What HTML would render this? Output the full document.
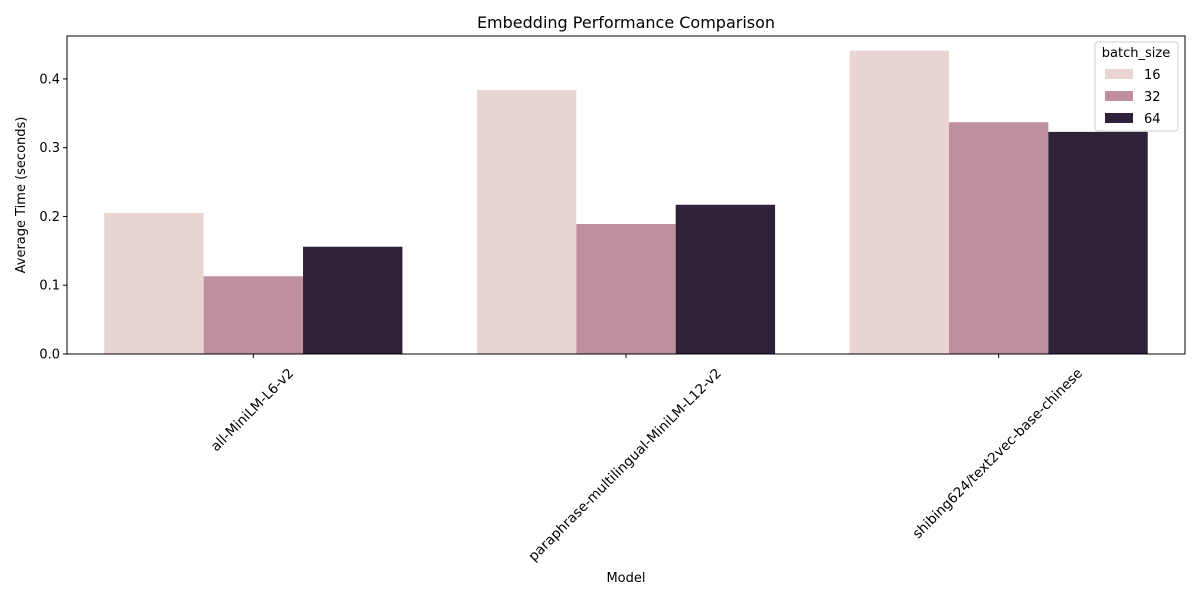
<!DOCTYPE html>
<html><head><meta charset="utf-8"><style>
body{margin:0;background:#fff;font-family:"Liberation Sans","DejaVu Sans",sans-serif;}
text{font-family:"DejaVu Sans","Liberation Sans",sans-serif;}
</style></head><body>
<svg id="chart" width="1200" height="600" xmlns="http://www.w3.org/2000/svg">
<text x="626" y="28" text-anchor="middle" font-size="16" fill="#000">Embedding Performance Comparison</text>
<g id="bars"></g>
<g id="axes"></g>
<text x="626" y="582" text-anchor="middle" font-size="13">Model</text>
<text transform="translate(25,195) rotate(-90)" text-anchor="middle" font-size="13">Average Time (seconds)</text>
<g id="legend"></g>
</svg>
<script>
const categories=["all-MiniLM-L6-v2","paraphrase-multilingual-MiniLM-L12-v2","shibing624/text2vec-base-chinese"];
const seriesNames=["16","32","64"];
const s16=[0.205,0.384,0.441];
const s32=[0.113,0.189,0.337];
const s64=[0.156,0.217,0.323];
const yTicks=[0.0,0.1,0.2,0.3,0.4];
const colors=["#e8d4d0","#c08f9e","#2e2139"];
const series=[s16,s32,s64];
const L=67,R=1185,T=36,B=354,yMax=0.4624;
const NS="http://www.w3.org/2000/svg";
const y=v=>B-v/yMax*(B-T);
const step=(R-L)/categories.length;
const xc=i=>L+step*(i+0.5);
const bw=step*0.8/3;
function mk(tag,attrs,parent){const e=document.createElementNS(NS,tag);for(const k in attrs)e.setAttribute(k,attrs[k]);parent.appendChild(e);return e;}
const bars=document.getElementById('bars');
series.forEach((s,si)=>{s.forEach((v,i)=>{
const r=mk('rect',{x:xc(i)-step*0.4+si*bw,y:y(v),width:bw,height:B-y(v),fill:colors[si]},bars);


});});
const ax=document.getElementById('axes');
const fr=mk('rect',{x:L,y:T,width:R-L,height:B-T,fill:'none',stroke:'#000','stroke-width':1},ax);


yTicks.forEach(t=>{
mk('line',{x1:L-4,x2:L,y1:y(t),y2:y(t),stroke:'#000'},ax);
const tx=mk('text',{x:L-7,y:y(t)+4.5,'text-anchor':'end','font-size':13},ax);
tx.textContent=t.toFixed(1);


});
categories.forEach((c,i)=>{
const x=xc(i);
mk('line',{x1:x,x2:x,y1:B,y2:B+4,stroke:'#000'},ax);
const tx=mk('text',{'text-anchor':'middle','font-size':13.6},ax);
tx.textContent=c;
const len=tx.getComputedTextLength();
const cy=B+10+(len+14)*0.7071/2;
tx.setAttribute('transform',`translate(${x+2},${cy+5}) rotate(-45)`);


});
const lg=document.getElementById('legend');
mk('rect',{x:1095,y:42,width:83,height:89,rx:3,fill:'#fff',stroke:'#ccc'},lg);
const lt=mk('text',{x:1136,y:57,'text-anchor':'middle','font-size':13},lg);lt.textContent='batch_size';
seriesNames.forEach((n,i)=>{
const yy=69+i*22;
const p=mk('rect',{x:1105,y:yy,width:28,height:10,fill:colors[i]},lg);


const t=mk('text',{x:1144,y:yy+10,'font-size':13},lg);t.textContent=n;


});
</script>
</body></html>
